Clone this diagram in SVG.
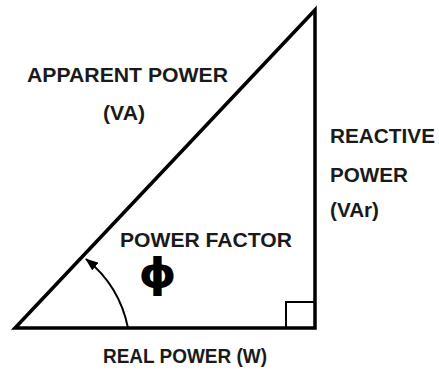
<svg xmlns="http://www.w3.org/2000/svg" width="439" height="373" viewBox="0 0 439 373">
<style>
.t{font-family:"Liberation Sans",Arial,sans-serif;font-weight:bold;fill:#1a1a1a;font-size:20px}
.l{fill:none;stroke:#000;stroke-width:3.5;stroke-linejoin:miter}
.s{fill:none;stroke:#000;stroke-width:2}
</style>
<defs>
<marker id="ah" markerWidth="13" markerHeight="10" refX="12" refY="5" orient="auto" markerUnits="userSpaceOnUse">
<path d="M0,0 L13,5 L0,10 Z" fill="#000"/>
</marker>
</defs>
<rect width="439" height="373" fill="#fff"/>
<g id="triangle">
<path class="l" d="M15,328 L315,10 L315,328 Z"/>
<path class="s" d="M286,328 L286,302 L315,302"/>
</g>
<g id="connectors">
<path class="s" d="M128,328 A118,118 0 0 0 86,259" marker-end="url(#ah)"/>
</g>
<g id="apparent">
<text class="t" x="27" y="82" textLength="201" lengthAdjust="spacingAndGlyphs">APPARENT POWER</text>
<text class="t" x="103" y="120" textLength="42" lengthAdjust="spacingAndGlyphs">(VA)</text>
</g>
<g id="reactive">
<text class="t" x="330" y="143" textLength="105" lengthAdjust="spacingAndGlyphs">REACTIVE</text>
<text class="t" x="330" y="182" textLength="78" lengthAdjust="spacingAndGlyphs">POWER</text>
<text class="t" x="330" y="217" textLength="49" lengthAdjust="spacingAndGlyphs">(VAr)</text>
</g>
<g id="pf">
<text class="t" x="120" y="247" textLength="172" lengthAdjust="spacingAndGlyphs">POWER FACTOR</text>
<text x="0" y="287" text-anchor="middle" transform="translate(157.5,0) scale(1.2,1)" style="font-family:'DejaVu Sans',sans-serif;font-weight:bold;font-size:40px;fill:#000">ϕ</text>
</g>
<g id="real">
<text class="t" x="103" y="363" textLength="164" lengthAdjust="spacingAndGlyphs">REAL POWER (W)</text>
</g>
</svg>
